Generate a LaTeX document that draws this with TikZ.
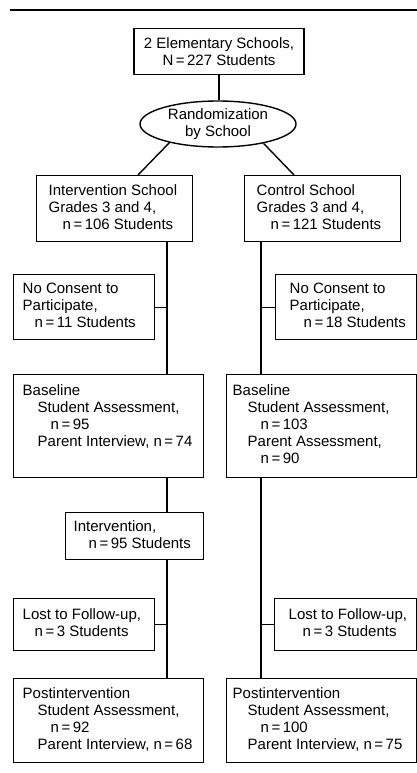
\documentclass[tikz,border=0pt]{standalone}
\usepackage{fontspec}
\setmainfont{Liberation Sans}
\usetikzlibrary{shapes.geometric}
\newcommand\boxtext[2]{\makebox[#1][l]{\begin{tabular}{@{}l@{}}#2\end{tabular}}}
\newcommand\eqs{\hspace{2.5pt}=\hspace{2.5pt}}
\begin{document}
\begin{tikzpicture}[x=1pt,y=-1pt,
  txt/.style={font=\fontsize{15}{17}\selectfont},
  box/.style={txt, draw, line width=1.4pt, rectangle, anchor=north west, inner ysep=0pt},
  conn/.style={line width=1.4pt}]
\useasboundingbox (0,0) rectangle (417,773);
\draw[line width=1.6pt] (10,10) -- (417,10);
% nodes
\node[box, anchor=north, minimum width=170pt, minimum height=46pt, align=center, inner xsep=0pt] (top) at (219,28)
  {2 Elementary Schools,\\N\eqs227 Students};
\node[txt, draw, line width=1.4pt, ellipse, minimum width=156pt, minimum height=46pt, inner sep=0pt, align=center] (rand) at (218,124)
  {Randomization\\by School};
\node[box, inner xsep=12pt, minimum height=66pt] (ib) at (36,175)
  {\boxtext{132pt}{Intervention School\\Grades 3 and 4,\\\hspace*{14pt}n\eqs106 Students}};
\node[box, inner xsep=12pt, minimum height=66pt] (cb) at (244,175)
  {\boxtext{132pt}{Control School\\Grades 3 and 4,\\\hspace*{14pt}n\eqs121 Students}};
\node[box, inner xsep=9pt, minimum height=65pt] (ncl) at (13,274)
  {\boxtext{123pt}{No Consent to\\Participate,\\\hspace*{12pt}n\eqs11 Students}};
\node[box, inner xsep=14pt, minimum height=65pt] (ncr) at (275,274)
  {\boxtext{113pt}{No Consent to\\Participate,\\\hspace*{14pt}n\eqs18 Students}};
\node[box, inner xsep=9pt, minimum height=103pt] (bl) at (13,374)
  {\boxtext{172pt}{Baseline\\\hspace*{15pt}Student Assessment,\\\hspace*{28pt}n\eqs95\\\hspace*{15pt}Parent Interview, n\eqs74\\\mbox{}}};
\node[box, inner xsep=6pt, minimum height=103pt] (br) at (226,374)
  {\boxtext{178pt}{Baseline\\\hspace*{15pt}Student Assessment,\\\hspace*{28pt}n\eqs103\\\hspace*{15pt}Parent Assessment,\\\hspace*{28pt}n\eqs90}};
\node[box, inner xsep=8pt, minimum height=47pt] (iv) at (65,512)
  {\boxtext{122pt}{Intervention,\\\hspace*{15pt}n\eqs95 Students}};
\node[box, inner xsep=9pt, minimum height=52pt] (ll) at (13,598)
  {\boxtext{123pt}{Lost to Follow-up,\\\hspace*{12pt}n\eqs3 Students}};
\node[box, inner xsep=14pt, minimum height=52pt] (lr) at (274,598)
  {\boxtext{114pt}{Lost to Follow-up,\\\hspace*{14pt}n\eqs3 Students}};
\node[box, inner xsep=9pt, minimum height=84pt] (pl) at (13,678)
  {\boxtext{172pt}{Postintervention\\\hspace*{15pt}Student Assessment,\\\hspace*{28pt}n\eqs92\\\hspace*{15pt}Parent Interview, n\eqs68}};
\node[box, inner xsep=6pt, minimum height=84pt] (pr) at (226,678)
  {\boxtext{178pt}{Postintervention\\\hspace*{15pt}Student Assessment,\\\hspace*{28pt}n\eqs100\\\hspace*{15pt}Parent Interview, n\eqs75}};
% trunk coordinates
\coordinate (tl) at (167,0);
\coordinate (tr) at (261,0);
\coordinate (la) at (138,0);
\coordinate (ra) at (294,0);
% connectors
\draw[conn] (top.south) -- (top.south |- rand.north);
\draw[conn] (rand.201) -- (ib.north -| la);
\draw[conn] (rand.337) -- (cb.north -| ra);
\draw[conn] (ib.south -| tl) -- (bl.north -| tl);
\draw[conn] (ncl.east) -- (ncl.east -| tl);
\draw[conn] (bl.south -| tl) -- (iv.north -| tl);
\draw[conn] (iv.south -| tl) -- (pl.north -| tl);
\draw[conn] (ll.east) -- (ll.east -| tl);
\draw[conn] (cb.south -| tr) -- (br.north -| tr);
\draw[conn] (ncr.west) -- (ncr.west -| tr);
\draw[conn] (br.south -| tr) -- (pr.north -| tr);
\draw[conn] (lr.west) -- (lr.west -| tr);
\end{tikzpicture}
\end{document}
